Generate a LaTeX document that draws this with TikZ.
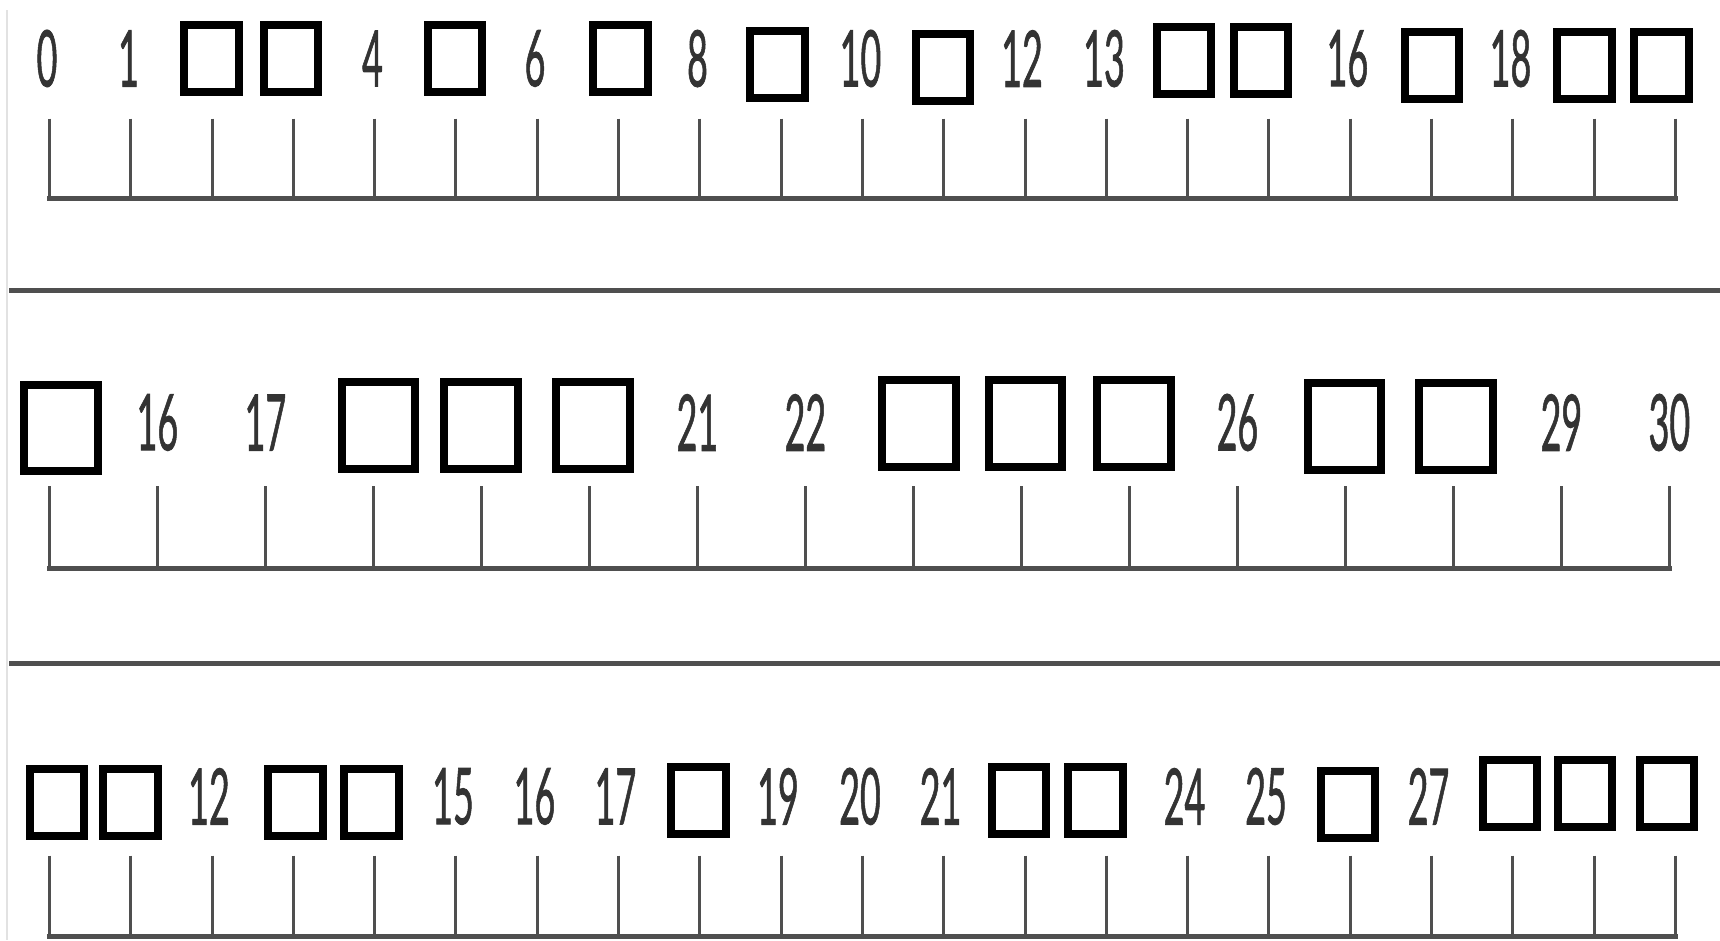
\documentclass[tikz,border=0pt]{standalone}
\usepackage{graphicx}
\usepackage{fontspec}
\setmainfont{Lato}
\newfontfamily\numfont[FakeBold=1.3]{Lato}
\definecolor{numgray}{HTML}{333333}
\definecolor{linegray}{HTML}{4F4F4F}
\definecolor{edgegray}{HTML}{E2E2E2}
\newcommand{\nm}[1]{\scalebox{0.46}[1]{#1}}
\tikzset{
  num/.style={font=\numfont\fontsize{78}{78}\selectfont, text=numgray, inner sep=0pt},
  numb/.style={font=\numfont\fontsize{78}{78}\selectfont, text=numgray, inner sep=0pt},
  tickline/.style={draw=linegray, line width=3pt},
  baseline/.style={draw=linegray, line width=5pt, line cap=rect},
  sepline/.style={draw=linegray, line width=4.5pt},
  bxs/.style={draw=black, line width=8pt, minimum width=54.5pt, minimum height=67pt, inner sep=0pt},
  bxl/.style={draw=black, line width=8pt, minimum width=73.5pt, minimum height=86.5pt, inner sep=0pt},
}
\begin{document}
\begin{tikzpicture}[x=1pt,y=-1pt]
\useasboundingbox (0,0) rectangle (1720,940);
\fill[white] (0,0) rectangle (1720,940);
\draw[edgegray, line width=1.5pt] (7,10) -- (7,940);

% ---------- Row 1 (0..20) ----------
\foreach \k in {0,...,20}{
  \coordinate (r1t\k) at ({49.4+81.3*\k},118.5);
  \coordinate (r1u\k) at ({49.4+81.3*\k},198.5);
  \draw[tickline] (r1t\k) -- (r1u\k);
}
\draw[baseline] (r1u0) -- (r1u20);

\node[num] (r1n0)  at (47,58.5)     {\nm{0}};
\node[num] (r1n1)  at (128.5,58.5)  {\nm{1}};
\node[num] (r1n4)  at (372.5,58.5)  {\nm{4}};
\node[num] (r1n6)  at (535,58.5)    {\nm{6}};
\node[num] (r1n8)  at (697.5,58.5)  {\nm{8}};
\node[num] (r1n10) at (860.5,58.5)  {\nm{10}};
\node[num] (r1n12) at (1022,58.5)   {\nm{12}};
\node[num] (r1n13) at (1104,58.5)   {\nm{13}};
\node[num] (r1n16) at (1347.5,58.5) {\nm{16}};
\node[num] (r1n18) at (1510.5,58.5) {\nm{18}};

\node[bxs] (r1b2)  at (211.7,58.7)  {};
\node[bxs] (r1b3)  at (291.2,58.7)  {};
\node[bxs] (r1b5)  at (455.2,58.7)  {};
\node[bxs] (r1b7)  at (620.3,58.7)  {};
\node[bxs] (r1b9)  at (777.7,64.2)  {};
\node[bxs] (r1b11) at (943.0,67.5)  {};
\node[bxs] (r1b14) at (1184.1,60.3) {};
\node[bxs] (r1b15) at (1260.9,60.3) {};
\node[bxs] (r1b17) at (1432.0,65.3) {};
\node[bxs] (r1b19) at (1584.5,65.3) {};
\node[bxs] (r1b20) at (1661.3,65.3) {};

\draw[sepline] (9,290.7) -- (1720,290.7);

% ---------- Row 2 (15..30) ----------
\foreach \k in {0,...,15}{
  \coordinate (r2t\k) at ({49.4+108*\k},486);
  \coordinate (r2u\k) at ({49.4+108*\k},568);
  \draw[tickline] (r2t\k) -- (r2u\k);
}
\draw[baseline] (r2u0) -- (r2u15);

\node[numb] (r2n16) at (157.4,422.5)  {\nm{16}};
\node[numb] (r2n17) at (265.4,422.5)  {\nm{17}};
\node[numb] (r2n21) at (697.4,422.5)  {\nm{21}};
\node[numb] (r2n22) at (805.4,422.5)  {\nm{22}};
\node[numb] (r2n26) at (1237.4,422.5) {\nm{26}};
\node[numb] (r2n29) at (1561.4,422.5) {\nm{29}};
\node[numb] (r2n30) at (1669.4,422.5) {\nm{30}};

\node[bxl] (r2b15) at (60.9,427.8)   {};
\node[bxl] (r2b18) at (378.4,425.6)  {};
\node[bxl] (r2b19) at (481.0,425.6)  {};
\node[bxl] (r2b20) at (592.9,425.6)  {};
\node[bxl] (r2b23) at (919.2,423.4)  {};
\node[bxl] (r2b24) at (1025.6,423.4) {};
\node[bxl] (r2b25) at (1134.2,423.4) {};
\node[bxl] (r2b27) at (1344.3,426.7) {};
\node[bxl] (r2b28) at (1456.2,426.7) {};

\draw[sepline] (9,663.6) -- (1720,663.6);

% ---------- Row 3 (10..30) ----------
\foreach \k in {0,...,20}{
  \coordinate (r3t\k) at ({49.4+81.3*\k},855.6);
  \coordinate (r3u\k) at ({49.4+81.3*\k},936);
  \draw[tickline] (r3t\k) -- (r3u\k);
}
\draw[baseline] (r3u0) -- (r3u20);

\node[num] (r3n12) at (209,796.4)    {\nm{12}};
\node[num] (r3n15) at (453,796.4)    {\nm{15}};
\node[num] (r3n16) at (534.5,796.4)  {\nm{16}};
\node[num] (r3n17) at (615.5,796.4)  {\nm{17}};
\node[num] (r3n19) at (778,796.4)    {\nm{19}};
\node[num] (r3n20) at (860,796.4)    {\nm{20}};
\node[num] (r3n21) at (940.5,796.4)  {\nm{21}};
\node[num] (r3n24) at (1184.5,796.4) {\nm{24}};
\node[num] (r3n25) at (1266,796.4)   {\nm{25}};
\node[num] (r3n27) at (1428.5,796.4) {\nm{27}};

\node[bxs] (r3b10) at (57.0,802.4)   {};
\node[bxs] (r3b11) at (130.5,802.4)  {};
\node[bxs] (r3b13) at (295.6,802.4)  {};
\node[bxs] (r3b14) at (371.3,802.4)  {};
\node[bxs] (r3b18) at (698.7,800.2)  {};
\node[bxs] (r3b22) at (1019.0,800.2) {};
\node[bxs] (r3b23) at (1095.3,800.2) {};
\node[bxs] (r3b26) at (1348.1,804.6) {};
\node[bxs] (r3b28) at (1509.9,793.6) {};
\node[bxs] (r3b29) at (1585.0,793.6) {};
\node[bxs] (r3b30) at (1666.8,793.6) {};
\end{tikzpicture}
\end{document}
